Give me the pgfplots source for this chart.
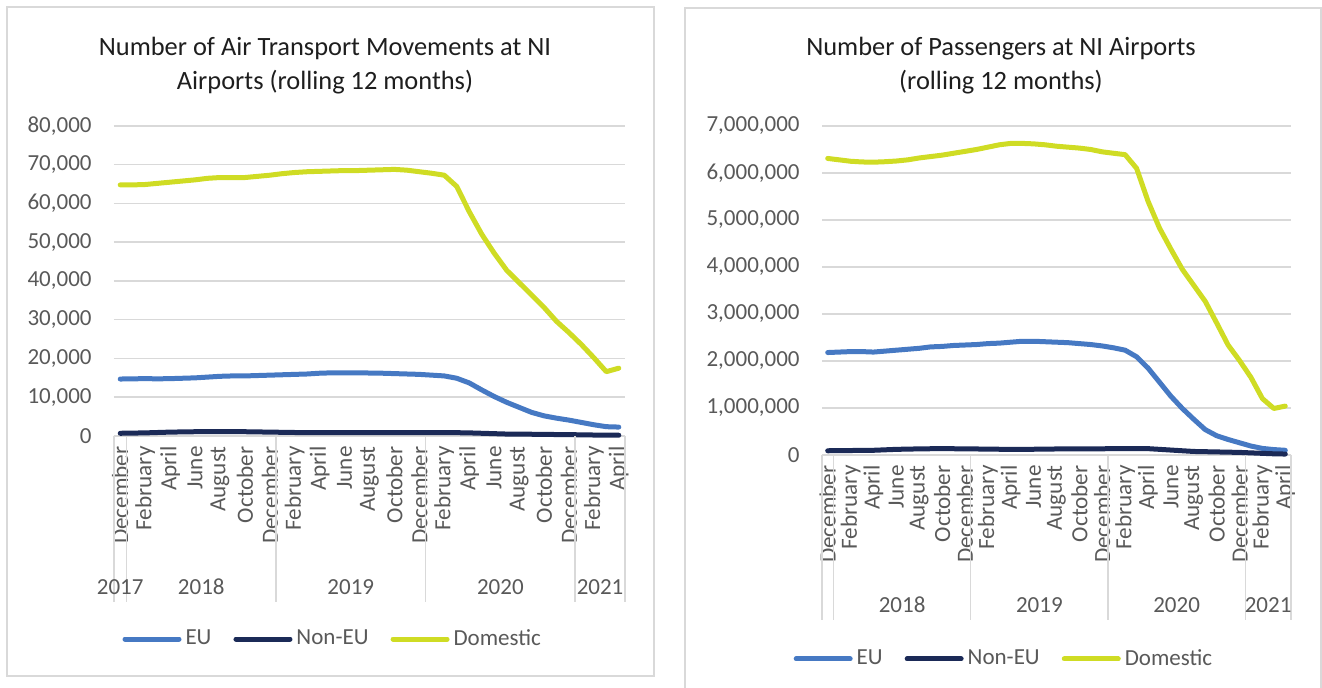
\documentclass[border=0pt]{standalone}
\usepackage{pgfplots}
\usepackage{pgfplotstable}
\pgfplotsset{compat=1.18}
\usepackage{fontspec}
\setmainfont{Carlito}
\definecolor{euc}{HTML}{4679C3}
\definecolor{nonc}{HTML}{1B2A57}
\definecolor{domc}{HTML}{CFDC24}
\definecolor{gridc}{HTML}{D9D9D9}
\definecolor{txt}{HTML}{595959}
\definecolor{ttl}{HTML}{1E1E1E}
\tikzset{yr/.style={font=\fontsize{11.5}{12}\selectfont, text=txt}}

\pgfplotstableread{
i eu non dom
0 14700 700 64800
1 14750 750 64800
2 14800 800 64900
3 14750 900 65200
4 14800 1000 65500
5 14900 1050 65800
6 15000 1100 66100
7 15200 1100 66500
8 15400 1100 66700
9 15500 1100 66700
10 15500 1100 66700
11 15600 1050 67000
12 15700 1000 67300
13 15800 950 67700
14 15900 900 68000
15 16000 900 68200
16 16200 850 68300
17 16300 850 68400
18 16300 850 68500
19 16300 900 68500
20 16250 900 68600
21 16200 850 68700
22 16100 850 68800
23 16000 850 68600
24 15900 850 68200
25 15700 850 67800
26 15500 850 67300
27 14900 850 64400
28 13700 800 57900
29 11900 700 52100
30 10200 600 47200
31 8700 500 42800
32 7400 450 39600
33 6100 450 36400
34 5200 400 33200
35 4600 380 29600
36 4100 350 26700
37 3500 300 23600
38 2900 250 20200
39 2400 220 16600
40 2300 200 17500
}\atmtable

\pgfplotstableread{
i eu non dom
0 2180000 90000 6310000
1 2190000 92000 6280000
2 2200000 95000 6250000
3 2200000 98000 6235000
4 2190000 100000 6230000
5 2210000 110000 6240000
6 2230000 120000 6255000
7 2250000 125000 6280000
8 2270000 130000 6320000
9 2300000 133000 6350000
10 2310000 135000 6380000
11 2330000 133000 6420000
12 2340000 130000 6460000
13 2350000 128000 6500000
14 2370000 125000 6550000
15 2380000 122000 6600000
16 2400000 120000 6630000
17 2420000 120000 6630000
18 2420000 122000 6620000
19 2410000 125000 6600000
20 2400000 128000 6570000
21 2390000 128000 6550000
22 2370000 128000 6530000
23 2350000 130000 6500000
24 2320000 132000 6450000
25 2280000 135000 6420000
26 2230000 138000 6390000
27 2090000 138000 6100000
28 1850000 135000 5400000
29 1550000 120000 4830000
30 1250000 105000 4380000
31 990000 90000 3950000
32 760000 75000 3610000
33 540000 70000 3270000
34 410000 65000 2810000
35 330000 60000 2340000
36 260000 55000 2010000
37 190000 45000 1650000
38 140000 35000 1200000
39 115000 25000 990000
40 100000 20000 1040000
}\paxtable

\pgfplotsset{
  mystyle/.style={
    scale only axis, clip=false,
    xmin=-0.5, xmax=40.5, ymin=0,
    axis line style={draw=none},
    major tick length=0pt,
    ymajorgrids, grid style={gridc, line width=0.75pt},
    xtick={0,2,...,40},
    xticklabels={December,February,April,June,August,October,December,February,April,June,August,October,December,February,April,June,August,October,December,February,April},
    xticklabel style={yshift=-5pt, rotate=90, anchor=east, inner sep=0pt, font=\fontsize{11.6}{12}\selectfont, text=txt},
    yticklabel style={font=\fontsize{11.5}{12}\selectfont, text=txt, inner sep=0pt, xshift=-11pt},
    /pgf/number format/.cd, fixed, 1000 sep={,}, assume math mode=true, /pgfplots/.cd,
    scaled y ticks=false,
    legend columns=3,
    legend style={draw=none, fill=none, font=\fontsize{11.5}{12}\selectfont, text=txt,
      /tikz/every even column/.append style={column sep=9pt}},
    legend cell align=left,
    legend image code/.code={\draw[##1,line width=2.5pt] (0pt,0pt) -- (27pt,0pt);},
    every axis plot/.append style={line width=2.5pt, line cap=round, line join=round, mark=none},
  },
}

\begin{document}
\begin{tikzpicture}
\useasboundingbox (0,0) rectangle (661pt,344pt);
\clip (0,0) rectangle (661pt,344pt);
\draw[gridc, line width=0.75pt] (3.5pt,6pt) rectangle (327pt,340.5pt);
\draw[gridc, line width=0.75pt] (342.5pt,-5pt) rectangle (660.5pt,340pt);

\node[align=center, font=\fontsize{13.2}{16.6}\selectfont, text=ttl] at (162.5pt,311.2pt)
  {Number of Air Transport Movements at NI\\Airports (rolling 12 months)};
\node[align=center, font=\fontsize{13.2}{16.6}\selectfont, text=ttl] at (500.5pt,311.2pt)
  {Number of Passengers at NI Airports\\(rolling 12 months)};

\begin{axis}[mystyle, at={(57pt,126pt)}, width=255.5pt, height=155pt,
  ymax=80000, ytick={0,10000,...,80000},
  legend style={at={(0.43,-0.655)}, anchor=center}]
\addplot[euc] table[x=i,y=eu] {\atmtable};
\addplot[nonc] table[x=i,y=non] {\atmtable};
\addplot[domc] table[x=i,y=dom] {\atmtable};
\legend{EU,Non-EU,Domestic}
\pgfplotsinvokeforeach{-0.5,0.5,12.5,24.5,36.5,40.5}{
  \draw[gridc, line width=0.75pt] (axis cs:#1,0) -- ([yshift=-83pt]axis cs:#1,0);
}
\node[yr] at ([yshift=-75.5pt]axis cs:0,0) {2017};
\node[yr] at ([yshift=-75.5pt]axis cs:6.5,0) {2018};
\node[yr] at ([yshift=-75.5pt]axis cs:18.5,0) {2019};
\node[yr] at ([yshift=-75.5pt]axis cs:30.5,0) {2020};
\node[yr] at ([yshift=-75.5pt]axis cs:38.5,0) {2021};
\end{axis}

\begin{axis}[mystyle, at={(411pt,116.5pt)}, width=234.5pt, height=164.5pt,
  ymax=7000000, ytick={0,1000000,...,7000000},
  legend style={at={(0.39,-0.62)}, anchor=center}]
\addplot[euc] table[x=i,y=eu] {\paxtable};
\addplot[nonc] table[x=i,y=non] {\paxtable};
\addplot[domc] table[x=i,y=dom] {\paxtable};
\legend{EU,Non-EU,Domestic}
\pgfplotsinvokeforeach{-0.5,0.5,12.5,24.5,36.5,40.5}{
  \draw[gridc, line width=0.75pt] (axis cs:#1,0) -- ([yshift=-82.5pt]axis cs:#1,0);
}
\node[yr] at ([yshift=-75pt]axis cs:6.5,0) {2018};
\node[yr] at ([yshift=-75pt]axis cs:18.5,0) {2019};
\node[yr] at ([yshift=-75pt]axis cs:30.5,0) {2020};
\node[yr] at ([yshift=-75pt]axis cs:38.5,0) {2021};
\end{axis}
\end{tikzpicture}
\end{document}
